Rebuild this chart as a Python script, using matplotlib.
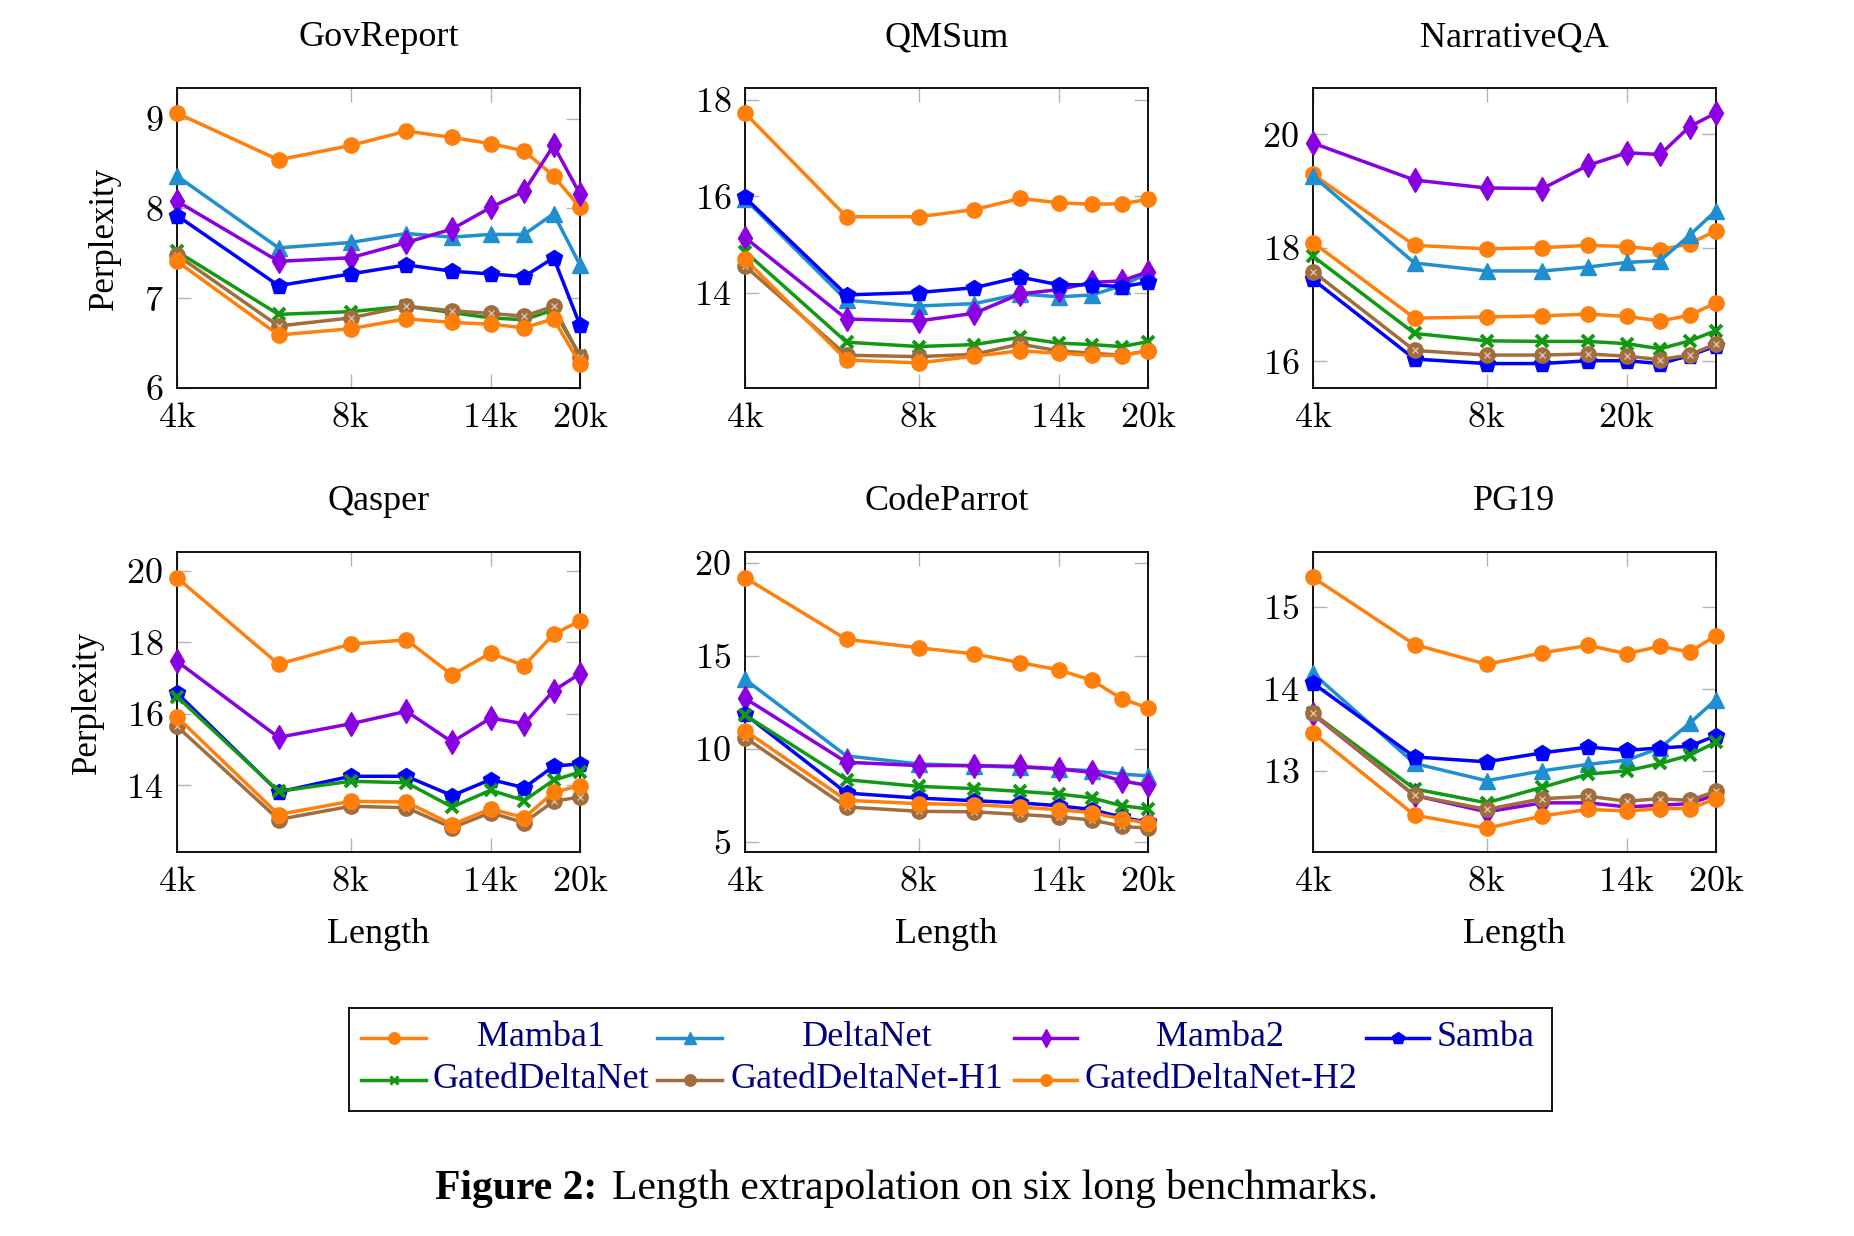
import matplotlib
matplotlib.use("Agg")
import matplotlib.pyplot as plt
from matplotlib.ticker import NullLocator

plt.rcParams['font.family'] = ['Liberation Serif', 'DejaVu Serif']
plt.rcParams['mathtext.fontset'] = 'cm'

# context lengths (x axis, log scale)
lengths = [4000, 6000, 8000, 10000, 12000, 14000, 16000, 18000, 20000]

models = ['Mamba1', 'DeltaNet', 'Mamba2', 'Samba', 'GatedDeltaNet',
          'GatedDeltaNet-H1', 'GatedDeltaNet-H2']

govreport = {
    'Mamba1': [9.06, 8.54, 8.70, 8.86, 8.79, 8.72, 8.64, 8.36, 8.01],
    'DeltaNet': [8.36, 7.56, 7.62, 7.72, 7.68, 7.71, 7.71, 7.94, 7.37],
    'Mamba2': [8.08, 7.41, 7.45, 7.62, 7.77, 8.01, 8.19, 8.70, 8.16],
    'Samba': [7.92, 7.14, 7.27, 7.37, 7.30, 7.27, 7.24, 7.45, 6.70],
    'GatedDeltaNet': [7.52, 6.82, 6.85, 6.91, 6.84, 6.78, 6.76, 6.87, 6.36],
    'GatedDeltaNet-H1': [7.48, 6.69, 6.78, 6.91, 6.86, 6.83, 6.80, 6.91, 6.35],
    'GatedDeltaNet-H2': [7.41, 6.59, 6.66, 6.77, 6.73, 6.71, 6.67, 6.77, 6.27],
}
qmsum = {
    'Mamba1': [17.72, 15.57, 15.57, 15.72, 15.95, 15.86, 15.83, 15.84, 15.93],
    'DeltaNet': [15.94, 13.84, 13.72, 13.77, 13.97, 13.91, 13.95, 14.14, 14.40],
    'Mamba2': [15.14, 13.45, 13.41, 13.57, 13.97, 14.06, 14.21, 14.24, 14.43],
    'Samba': [15.97, 13.95, 14.00, 14.10, 14.32, 14.16, 14.16, 14.12, 14.21],
    'GatedDeltaNet': [14.85, 12.97, 12.88, 12.92, 13.07, 12.95, 12.92, 12.88, 12.98],
    'GatedDeltaNet-H1': [14.55, 12.70, 12.67, 12.72, 12.93, 12.79, 12.74, 12.70, 12.79],
    'GatedDeltaNet-H2': [14.69, 12.60, 12.54, 12.68, 12.79, 12.74, 12.70, 12.69, 12.79],
}
narrativeqa = {
    'Mamba1': [19.29, 18.04, 17.98, 18.00, 18.04, 18.02, 17.96, 18.07, 18.30],
    'DeltaNet': [19.26, 17.73, 17.59, 17.59, 17.66, 17.74, 17.77, 18.22, 18.65],
    'Mamba2': [19.84, 19.19, 19.05, 19.04, 19.45, 19.67, 19.64, 20.13, 20.37],
    'Samba': [17.44, 16.04, 15.96, 15.96, 16.01, 16.01, 15.96, 16.10, 16.27],
    'GatedDeltaNet': [17.85, 16.49, 16.36, 16.35, 16.35, 16.31, 16.22, 16.36, 16.54],
    'GatedDeltaNet-H1': [17.58, 16.19, 16.11, 16.11, 16.13, 16.09, 16.03, 16.11, 16.31],
    'GatedDeltaNet-H2': [18.09, 16.76, 16.78, 16.80, 16.83, 16.79, 16.71, 16.81, 17.03],
}
qasper = {
    'Mamba1': [19.81, 17.39, 17.95, 18.07, 17.09, 17.70, 17.35, 18.23, 18.60],
    'Mamba2': [17.47, 15.34, 15.72, 16.07, 15.21, 15.88, 15.72, 16.65, 17.12],
    'Samba': [16.58, 13.81, 14.25, 14.25, 13.71, 14.16, 13.93, 14.53, 14.60],
    'GatedDeltaNet': [16.48, 13.83, 14.11, 14.07, 13.39, 13.86, 13.57, 14.14, 14.37],
    'GatedDeltaNet-H1': [15.65, 13.04, 13.41, 13.37, 12.81, 13.23, 12.95, 13.55, 13.67],
    'GatedDeltaNet-H2': [15.91, 13.18, 13.55, 13.53, 12.90, 13.34, 13.09, 13.80, 13.99],
}
codeparrot = {
    'Mamba1': [19.21, 15.89, 15.44, 15.10, 14.64, 14.25, 13.68, 12.70, 12.20],
    'DeltaNet': [13.74, 9.62, 9.19, 9.08, 9.01, 8.92, 8.82, 8.64, 8.55],
    'Mamba2': [12.72, 9.28, 9.10, 9.10, 9.05, 8.92, 8.73, 8.28, 8.03],
    'Samba': [11.86, 7.62, 7.35, 7.21, 7.09, 6.94, 6.73, 6.32, 6.05],
    'GatedDeltaNet': [11.82, 8.34, 7.98, 7.86, 7.71, 7.57, 7.36, 6.94, 6.77],
    'GatedDeltaNet-H1': [10.61, 6.87, 6.64, 6.61, 6.47, 6.34, 6.17, 5.84, 5.72],
    'GatedDeltaNet-H2': [10.98, 7.23, 7.05, 7.00, 6.86, 6.73, 6.56, 6.23, 6.02],
}
pg19 = {
    'Mamba1': [15.36, 14.54, 14.30, 14.44, 14.53, 14.43, 14.52, 14.45, 14.65],
    'DeltaNet': [14.19, 13.09, 12.88, 13.00, 13.08, 13.13, 13.28, 13.58, 13.87],
    'Mamba2': [13.69, 12.70, 12.50, 12.61, 12.61, 12.56, 12.58, 12.60, 12.71],
    'Samba': [14.07, 13.17, 13.11, 13.22, 13.29, 13.25, 13.28, 13.30, 13.43],
    'GatedDeltaNet': [13.70, 12.78, 12.61, 12.80, 12.96, 13.00, 13.09, 13.19, 13.35],
    'GatedDeltaNet-H1': [13.70, 12.70, 12.53, 12.66, 12.69, 12.63, 12.66, 12.64, 12.75],
    'GatedDeltaNet-H2': [13.46, 12.46, 12.30, 12.45, 12.53, 12.51, 12.54, 12.54, 12.66],
}

titles = ['GovReport', 'QMSum', 'NarrativeQA', 'Qasper', 'CodeParrot', 'PG19']
datasets = [govreport, qmsum, narrativeqa, qasper, codeparrot, pg19]
ylims = [(6.0, 9.34), (12.02, 18.24), (15.53, 20.81),
         (12.13, 20.53), (4.45, 20.59), (12.01, 15.67)]
yticks = [[6, 7, 8, 9], [14, 16, 18], [16, 18, 20],
          [14, 16, 18, 20], [5, 10, 15, 20], [13, 14, 15]]
xtick_pos = [4000, 8000, 14000, 20000]
xtick_labels = ['4k', '8k', '14k', '20k']
# NarrativeQA's axis is labelled differently in the source figure
narr_tick_pos = [4000, 8000, 14000]
narr_tick_labels = ['4k', '8k', '20k']

colors = {
    'Mamba1': '#ff7f0a', 'DeltaNet': '#1f8fcf', 'Mamba2': '#8a00e0',
    'Samba': '#0000ff', 'GatedDeltaNet': '#119911',
    'GatedDeltaNet-H1': '#a26d3d', 'GatedDeltaNet-H2': '#ff7f0a',
}
markers = {
    'Mamba1': ('o', 11), 'DeltaNet': ('^', 11), 'Mamba2': ('d', 12),
    'Samba': ('p', 12), 'GatedDeltaNet': ('x', 8),
    'GatedDeltaNet-H1': ('o', 11), 'GatedDeltaNet-H2': ('o', 11),
}

W, H = 1854, 1236
fig = plt.figure(figsize=(W / 100, H / 100), dpi=100)

col_left = [177, 745, 1313]
row_top = [88, 552]
aw, ah = 403, 300

for i, (title, data) in enumerate(zip(titles, datasets)):
    r, c = divmod(i, 3)
    ax = fig.add_axes([col_left[c] / W, 1 - (row_top[r] + ah) / H, aw / W, ah / H])
    for m in models:
        if m not in data:
            continue
        mk, ms = markers[m]
        mew = 2.8 if mk == 'x' else 1
        ax.plot(lengths, data[m], color=colors[m], lw=2.5, marker=mk, ms=ms,
                mew=mew, clip_on=False, zorder=3)
        if m == 'GatedDeltaNet-H1':
            ax.plot(lengths, data[m], ls='none', marker='x', ms=5, mew=1.0,
                    color='#d8c2a8', clip_on=False, zorder=3)
    ax.set_xscale('log')
    ax.set_xlim(4000, 20000)
    ax.xaxis.set_minor_locator(NullLocator())
    if title == 'NarrativeQA':
        ax.set_xticks(narr_tick_pos)
        ax.set_xticklabels([r'$\mathrm{%s}$' % t for t in narr_tick_labels])
    else:
        ax.set_xticks(xtick_pos)
        ax.set_xticklabels([r'$\mathrm{%s}$' % t for t in xtick_labels])
    ax.set_ylim(*ylims[i])
    ax.set_yticks(yticks[i])
    ax.set_yticklabels([r'$%d$' % t for t in yticks[i]])
    ax.tick_params(direction='in', length=10, width=1, color='#b4b4b4',
                   top=True, right=True, labelsize=26)
    ax.tick_params(axis='x', pad=10)
    ax.tick_params(axis='y', pad=10)
    for s in ax.spines.values():
        s.set_linewidth(1.3)
    ax.set_title(title, fontsize=26, pad=30)
    if c == 0:
        ax.set_ylabel('Perplexity', fontsize=25, labelpad=16)
    if r == 1:
        ax.set_xlabel('Length', fontsize=26, labelpad=14)

# legend box, laid out like the pgfplots legend
lx0, ly0, lw_, lh = 349, 1008, 1203, 103
lax = fig.add_axes([lx0 / W, 1 - (ly0 + lh) / H, lw_ / W, lh / H])
lax.set_xlim(0, lw_)
lax.set_ylim(lh, 0)
lax.set_xticks([])
lax.set_yticks([])
for s in lax.spines.values():
    s.set_linewidth(1.3)

handle_x = [(12, 77), (308, 373), (665, 728), (1017, 1080)]
row_y = [30, 72]
entries = [
    ('Mamba1', 0, 0, 192, 'center'),
    ('DeltaNet', 0, 1, 518, 'center'),
    ('Mamba2', 0, 2, 871, 'center'),
    ('Samba', 0, 3, 1088, 'left'),
    ('GatedDeltaNet', 1, 0, 83, 'left'),
    ('GatedDeltaNet-H1', 1, 1, 381, 'left'),
    ('GatedDeltaNet-H2', 1, 2, 735, 'left'),
]
for name, row, col, tx, ha in entries:
    x0, x1 = handle_x[col]
    y = row_y[row]
    mk, ms = markers[name]
    lax.plot([x0, x1], [y, y], color=colors[name], lw=2.5)
    lax.plot([(x0 + x1) / 2], [y], color=colors[name], marker=mk,
             ms=ms * 0.75, mew=2.2 if mk == 'x' else 1)
    lax.text(tx, y, name, ha=ha, va='center', fontsize=26, color='#00007f')

fig.text(597 / W, 1 - 1189 / H, 'Figure 2:', ha='right', va='center',
         fontsize=30, fontweight='bold')
fig.text(612 / W, 1 - 1189 / H, 'Length extrapolation on six long benchmarks.',
         ha='left', va='center', fontsize=30)

fig.savefig('out.png', dpi=100)
